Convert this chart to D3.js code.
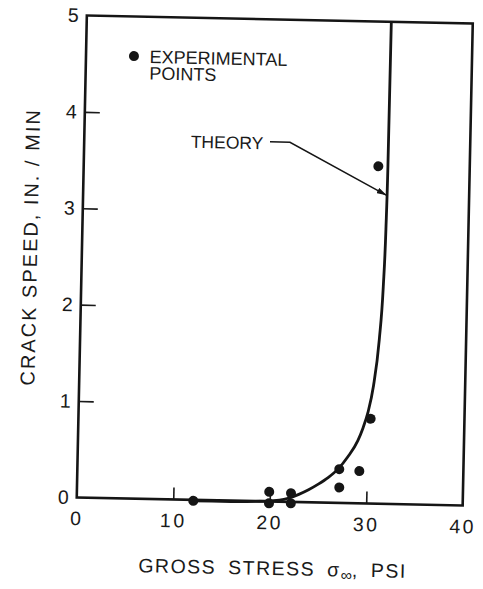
<!DOCTYPE html>
<html>
<head>
<meta charset="utf-8">
<script src="https://cdn.jsdelivr.net/npm/d3@7"></script>
<style>
  html, body { margin: 0; padding: 0; background: #fff; }
  text { font-family: "Liberation Sans", Arial, sans-serif; fill: #1a1a1a; }
</style>
</head>
<body>
<script>
// Gross stress (psi) vs crack speed (in./min)
const pointStress = [12.08, 19.93, 19.93, 22.19, 22.19, 27.14, 27.18, 29.22, 30.28, 30.53];
const pointSpeed  = [-0.01, 0.10, -0.02, 0.09, -0.015, 0.35, 0.16, 0.335, 0.88, 3.50];

// Theoretical crack-speed curve
const theoryStress = [12, 16, 19, 21, 22, 23, 24, 25, 26, 27, 28, 29, 29.5, 30, 30.5, 31, 31.3, 31.45, 31.52, 31.56];
const theorySpeed  = [-0.01, -0.01, 0, 0.015, 0.04, 0.08, 0.13, 0.19, 0.26, 0.35, 0.48, 0.65, 0.78, 0.95, 1.22, 1.7, 2.25, 2.85, 3.5, 5.0];

const xTicks = [0, 10, 20, 30, 40];
const yTicks = [0, 1, 2, 3, 4, 5];

const W = 483, H = 589;
const margin = { left: 81.75, top: 19.5, width: 386, height: 482 };

const svg = d3.select("body").append("svg")
  .attr("width", W).attr("height", H)
  .style("display", "block");

svg.append("rect").attr("width", W).attr("height", H).attr("fill", "#fff");

const g = svg.append("g")
  .attr("transform", "rotate(1.2, 274.75, 260.5)");

const x = d3.scaleLinear().domain([0, 40]).range([margin.left, margin.left + margin.width]);
const y = d3.scaleLinear().domain([0, 5]).range([margin.top + margin.height, margin.top]);

// y axis: inward ticks, labels at each unit
const yAxis = g.append("g")
  .attr("transform", `translate(${margin.left},0)`)
  .call(d3.axisLeft(y).tickValues(yTicks).tickSizeInner(-15).tickSizeOuter(0).tickPadding(8).tickFormat(d3.format("d")));
yAxis.select(".domain").remove();
yAxis.selectAll(".tick line")
  .attr("stroke", "#1a1a1a").attr("stroke-width", 1.6)
  .filter(d => d === 0 || d === 5).remove();
yAxis.selectAll(".tick text")
  .attr("font-size", 19.5).attr("font-family", "Liberation Sans, Arial, sans-serif").attr("fill", "#1a1a1a");

// x axis
const xAxis = g.append("g")
  .attr("transform", `translate(0,${margin.top + margin.height})`)
  .call(d3.axisBottom(x).tickValues(xTicks).tickSizeInner(-12).tickSizeOuter(0).tickPadding(14).tickFormat(d3.format("d")));
xAxis.select(".domain").remove();
xAxis.selectAll(".tick line")
  .attr("stroke", "#1a1a1a").attr("stroke-width", 1.6)
  .filter(d => d === 0 || d === 40).remove();
xAxis.selectAll(".tick text")
  .attr("font-size", 19.5).attr("letter-spacing", 2.5)
  .attr("font-family", "Liberation Sans, Arial, sans-serif").attr("fill", "#1a1a1a");

// frame
g.append("rect")
  .attr("x", x(0)).attr("y", y(5))
  .attr("width", x(40) - x(0)).attr("height", y(0) - y(5))
  .attr("fill", "none").attr("stroke", "#151515").attr("stroke-width", 2.6);

// theory curve
const theory = theoryStress.map((s, i) => [s, theorySpeed[i]]);
g.append("path")
  .datum(theory)
  .attr("fill", "none").attr("stroke", "#151515").attr("stroke-width", 2.8)
  .attr("d", d3.line().x(d => x(d[0])).y(d => y(d[1])).curve(d3.curveMonotoneX));

// experimental points
g.selectAll("circle.pt")
  .data(pointStress.map((s, i) => [s, pointSpeed[i]]))
  .join("circle").attr("class", "pt")
  .attr("cx", d => x(d[0])).attr("cy", d => y(d[1]))
  .attr("r", 5).attr("fill", "#151515");

// legend
g.append("circle").attr("cx", x(4.97)).attr("cy", y(4.59)).attr("r", 5).attr("fill", "#151515");
const leg = g.append("text").attr("x", x(6.6)).attr("font-size", 18);
leg.append("tspan").attr("x", x(6.6)).attr("y", y(4.52)).text("EXPERIMENTAL");
leg.append("tspan").attr("x", x(6.6)).attr("y", y(4.35)).text("POINTS");

// theory annotation with leader arrow
g.append("text")
  .attr("x", x(18.57)).attr("y", y(3.65))
  .attr("text-anchor", "end").attr("font-size", 17.5)
  .text("THEORY");

svg.append("defs").append("marker")
  .attr("id", "arrowhead")
  .attr("viewBox", "0 0 10 6").attr("refX", 10).attr("refY", 3)
  .attr("markerWidth", 10).attr("markerHeight", 6)
  .attr("markerUnits", "userSpaceOnUse").attr("orient", "auto")
  .append("path").attr("d", "M0,0 L10,3 L0,6 Z").attr("fill", "#151515");

const leader = [[19.25, 3.73], [21.32, 3.73], [31.45, 3.2]];
g.append("path")
  .datum(leader)
  .attr("fill", "none").attr("stroke", "#151515").attr("stroke-width", 1.5)
  .attr("marker-end", "url(#arrowhead)")
  .attr("d", d3.line().x(d => x(d[0])).y(d => y(d[1])));

// axis titles
g.append("text")
  .attr("transform", "translate(37,252) rotate(-90)")
  .attr("text-anchor", "middle").attr("font-size", 20).attr("letter-spacing", 2)
  .text("CRACK SPEED, IN. / MIN");

const xt = g.append("text")
  .attr("x", 279).attr("y", 575)
  .attr("text-anchor", "middle").attr("font-size", 19.5).attr("letter-spacing", 1.5)
  .attr("word-spacing", 5);
xt.append("tspan").text("GROSS STRESS σ");
xt.append("tspan").attr("font-size", 16).attr("dy", 4).attr("letter-spacing", 0).text("∞");
xt.append("tspan").attr("dy", -4).text(", PSI");
</script>
</body>
</html>
